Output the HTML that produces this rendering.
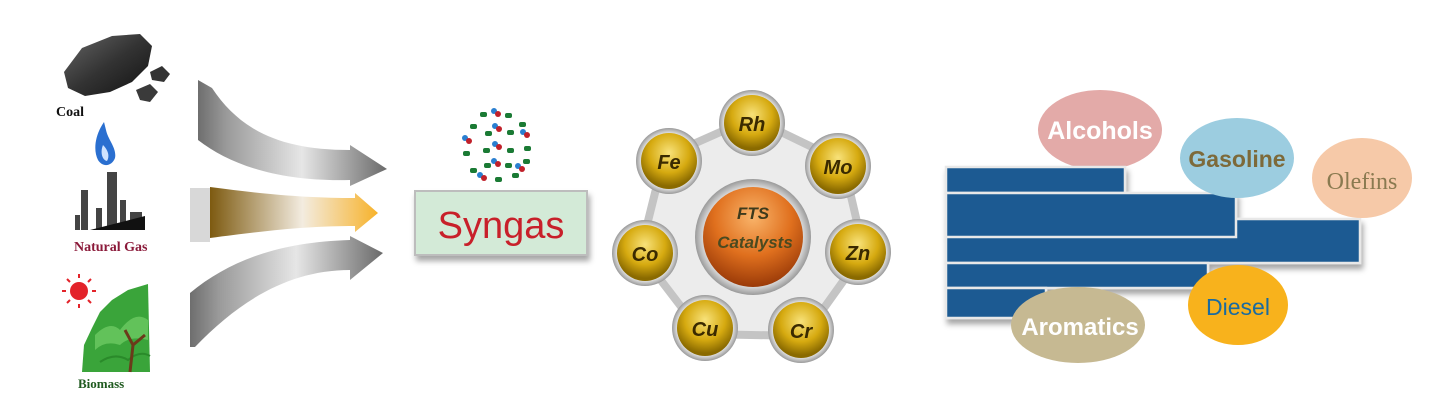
<!DOCTYPE html>
<html><head><meta charset="utf-8"><style>
html,body{margin:0;padding:0;background:#fff;width:1451px;height:409px;overflow:hidden}
svg{display:block}
</style></head><body>
<svg width="1451" height="409" viewBox="0 0 1451 409" xmlns="http://www.w3.org/2000/svg">
<defs>
<linearGradient id="gray" x1="0" x2="1" y1="0" y2="0">
<stop offset="0" stop-color="#6e6e6e"/><stop offset="0.15" stop-color="#9a9a9a"/><stop offset="0.55" stop-color="#e6e6e6"/><stop offset="1" stop-color="#6a6a6a"/></linearGradient>
<linearGradient id="brown" x1="0" x2="1" y1="0" y2="0">
<stop offset="0" stop-color="#7d5a10"/><stop offset="0.55" stop-color="#f3ece0"/><stop offset="1" stop-color="#f7b22a"/></linearGradient>
<radialGradient id="gold" cx="0.5" cy="0.35" r="0.6">
<stop offset="0" stop-color="#f8e27a"/><stop offset="0.6" stop-color="#d6aa10"/><stop offset="1" stop-color="#8a6a00"/></radialGradient>
<radialGradient id="orange" cx="0.5" cy="0.3" r="0.7">
<stop offset="0" stop-color="#f9b46a"/><stop offset="0.55" stop-color="#e0701e"/><stop offset="1" stop-color="#9a3a08"/></radialGradient>
<radialGradient id="silver" cx="0.5" cy="0.5" r="0.5">
<stop offset="0.8" stop-color="#f4f4f4"/><stop offset="1" stop-color="#9a9a9a"/></radialGradient>
<linearGradient id="coal" x1="0" x2="1" y1="0" y2="1"><stop offset="0" stop-color="#666"/><stop offset="0.5" stop-color="#333"/><stop offset="1" stop-color="#111"/></linearGradient>
<filter id="sh" x="-10%" y="-10%" width="130%" height="140%"><feDropShadow dx="2" dy="5" stdDeviation="3" flood-color="#000" flood-opacity="0.35"/></filter>
</defs>

<!-- Coal -->
<path d="M64 72 L82 48 L112 36 L140 34 L152 46 L148 66 L132 82 L110 92 L85 96 L68 88 Z" fill="url(#coal)"/>
<path d="M150 72 L162 66 L170 74 L164 82 L152 80 Z" fill="#333"/>
<path d="M136 90 L150 84 L158 92 L150 102 L140 100 Z" fill="#3a3a3a"/>
<text x="56" y="116" font-family="Liberation Serif,serif" font-weight="bold" font-size="14" fill="#111">Coal</text>
<!-- flame -->
<path d="M104 122 C95 135 93 150 98 160 C103 168 112 166 115 158 C117 148 108 140 106 130 Z" fill="#2a6fd0"/>
<path d="M103 145 C100 152 102 160 107 161 C110 156 108 150 103 145Z" fill="#cfe3ff"/>
<!-- factory -->
<g fill="#444">
<rect x="107" y="172" width="10" height="58"/><rect x="81" y="190" width="7" height="40"/><rect x="120" y="200" width="6" height="30"/>
<rect x="96" y="208" width="6" height="22"/><rect x="75" y="215" width="5" height="15"/><rect x="130" y="212" width="12" height="18"/>
</g>
<path d="M90 230 L145 216 L145 230 Z" fill="#111"/>
<text x="74" y="251" font-family="Liberation Serif,serif" font-weight="bold" font-size="14" fill="#8b1a3a">Natural Gas</text>
<!-- sun -->
<circle cx="79" cy="291" r="9" fill="#e3232a"/>
<g stroke="#e3232a" stroke-width="2">
<line x1="79" y1="274" x2="79" y2="278"/><line x1="79" y1="304" x2="79" y2="308"/><line x1="62" y1="291" x2="66" y2="291"/><line x1="92" y1="291" x2="96" y2="291"/>
<line x1="67" y1="279" x2="70" y2="282"/><line x1="88" y1="300" x2="91" y2="303"/><line x1="67" y1="303" x2="70" y2="300"/><line x1="88" y1="282" x2="91" y2="279"/>
</g>
<!-- tree -->
<path d="M82 372 L84 345 L92 328 L100 312 L112 300 L128 290 L148 284 L150 372 Z" fill="#3aa43a"/>
<path d="M95 335 Q110 320 120 330 Q135 310 148 320 L148 340 Q130 335 120 345 Q105 340 95 350Z" fill="#62c25a"/>
<path d="M100 362 Q115 352 128 360 Q140 350 150 356" stroke="#2a8a2a" stroke-width="2" fill="none"/>
<path d="M130 372 L133 345 L125 330 M133 345 L145 335" stroke="#6b3a1a" stroke-width="3" fill="none"/>
<text x="78" y="388" font-family="Liberation Serif,serif" font-weight="bold" font-size="13" fill="#1f5a1f">Biomass</text>

<!-- arrows -->
<path d="M198 80 L212 88 C240 130 280 150 350 150 L350 145 L387 169 L350 186 L350 180 C280 182 230 165 198 140 Z" fill="url(#gray)"/>
<rect x="190" y="188" width="20" height="54" fill="#d8d8d8"/>
<path d="M210 187 C270 195 310 198 355 198 L355 193 L378 213 L355 232 L355 226 C310 226 270 230 210 238 Z" fill="url(#brown)"/>
<path d="M190 293 C230 260 280 242 350 240 L350 236 L383 253 L350 280 L350 270 C290 270 240 300 195 347 L190 347 Z" fill="url(#gray)"/>

<!-- syngas -->
<g>
<g fill="#1a7a34">
<rect x="480" y="112" width="7" height="5" rx="2"/><rect x="505" y="113" width="7" height="5" rx="2"/><rect x="470" y="124" width="7" height="5" rx="2"/>
<rect x="485" y="131" width="7" height="5" rx="2"/><rect x="507" y="130" width="7" height="5" rx="2"/><rect x="519" y="122" width="7" height="5" rx="2"/>
<rect x="463" y="151" width="7" height="5" rx="2"/><rect x="483" y="148" width="7" height="5" rx="2"/><rect x="507" y="148" width="7" height="5" rx="2"/>
<rect x="524" y="146" width="7" height="5" rx="2"/><rect x="470" y="168" width="7" height="5" rx="2"/><rect x="484" y="163" width="7" height="5" rx="2"/>
<rect x="505" y="163" width="7" height="5" rx="2"/><rect x="523" y="159" width="7" height="5" rx="2"/><rect x="495" y="177" width="7" height="5" rx="2"/><rect x="512" y="173" width="7" height="5" rx="2"/>
</g>
<g><circle cx="494" cy="111" r="3" fill="#2a7fd0"/><circle cx="498" cy="114" r="3" fill="#c0202a"/>
<circle cx="495" cy="126" r="3" fill="#2a7fd0"/><circle cx="499" cy="129" r="3" fill="#c0202a"/>
<circle cx="523" cy="132" r="3" fill="#2a7fd0"/><circle cx="527" cy="135" r="3" fill="#c0202a"/>
<circle cx="465" cy="138" r="3" fill="#2a7fd0"/><circle cx="469" cy="141" r="3" fill="#c0202a"/>
<circle cx="495" cy="144" r="3" fill="#2a7fd0"/><circle cx="499" cy="147" r="3" fill="#c0202a"/>
<circle cx="494" cy="161" r="3" fill="#2a7fd0"/><circle cx="498" cy="164" r="3" fill="#c0202a"/>
<circle cx="518" cy="166" r="3" fill="#2a7fd0"/><circle cx="522" cy="169" r="3" fill="#c0202a"/>
<circle cx="480" cy="175" r="3" fill="#2a7fd0"/><circle cx="484" cy="178" r="3" fill="#c0202a"/></g>
<rect x="415" y="191" width="172" height="64" fill="#d3ead7" stroke="#bdbdbd" stroke-width="2" filter="url(#sh)"/>
<text x="501" y="238" text-anchor="middle" font-family="Liberation Sans,sans-serif" font-size="38" fill="#c8202a">Syngas</text>
</g>

<!-- catalysts -->
<polygon points="752,118 843,162 864,252 804,336 702,334 640,253 664,157" fill="#ececec" stroke="#c4c4c4" stroke-width="8" stroke-linejoin="round"/>
<circle cx="753" cy="237" r="58" fill="url(#silver)"/>
<circle cx="753" cy="237" r="50" fill="url(#orange)"/>
<text x="753" y="219" text-anchor="middle" font-family="Liberation Sans,sans-serif" font-weight="bold" font-style="italic" font-size="17" fill="#3d3a1c">FTS</text>
<text x="755" y="248" text-anchor="middle" font-family="Liberation Sans,sans-serif" font-weight="bold" font-style="italic" font-size="17" fill="#4a4a20">Catalysts</text>
<g font-family="Liberation Sans,sans-serif" font-weight="bold" font-style="italic" font-size="20" fill="#3a2a00" text-anchor="middle">
<circle cx="752" cy="123" r="33" fill="url(#silver)"/><circle cx="752" cy="123" r="28" fill="url(#gold)"/><text x="752" y="131">Rh</text>
<circle cx="669" cy="161" r="33" fill="url(#silver)"/><circle cx="669" cy="161" r="28" fill="url(#gold)"/><text x="669" y="169">Fe</text>
<circle cx="838" cy="166" r="33" fill="url(#silver)"/><circle cx="838" cy="166" r="28" fill="url(#gold)"/><text x="838" y="174">Mo</text>
<circle cx="645" cy="253" r="33" fill="url(#silver)"/><circle cx="645" cy="253" r="28" fill="url(#gold)"/><text x="645" y="261">Co</text>
<circle cx="858" cy="252" r="33" fill="url(#silver)"/><circle cx="858" cy="252" r="28" fill="url(#gold)"/><text x="858" y="260">Zn</text>
<circle cx="705" cy="328" r="33" fill="url(#silver)"/><circle cx="705" cy="328" r="28" fill="url(#gold)"/><text x="705" y="336">Cu</text>
<circle cx="801" cy="330" r="33" fill="url(#silver)"/><circle cx="801" cy="330" r="28" fill="url(#gold)"/><text x="801" y="338">Cr</text>
</g>

<!-- products -->
<ellipse cx="1100" cy="130" rx="62" ry="40" fill="#e3aaa8"/>
<g filter="url(#sh)" stroke="#e8e8e8" stroke-width="2.5" fill="#1b5a92">
<rect x="946" y="167" width="179" height="26"/>
<rect x="946" y="219" width="414" height="44"/>
<rect x="946" y="193" width="290" height="44"/>
<rect x="946" y="263" width="262" height="25"/>
<rect x="946" y="288" width="100" height="30"/>
</g>
<ellipse cx="1237" cy="158" rx="57" ry="40" fill="#9ccde0"/>
<ellipse cx="1362" cy="178" rx="50" ry="40" fill="#f6c9a8"/>
<ellipse cx="1238" cy="305" rx="50" ry="40" fill="#f8b21c"/>
<ellipse cx="1078" cy="325" rx="67" ry="38" fill="#c6b992"/>
<g font-family="Liberation Sans,sans-serif" text-anchor="middle">
<text x="1100" y="139" font-size="25" font-weight="bold" fill="#fff">Alcohols</text>
<text x="1237" y="167" font-size="23" font-weight="bold" fill="#7d6a3a">Gasoline</text>
<text x="1238" y="315" font-size="23" fill="#1a6ba0">Diesel</text>
<text x="1080" y="335" font-size="24" font-weight="bold" fill="#fff">Aromatics</text>
</g>
<text x="1362" y="189" text-anchor="middle" font-family="Liberation Serif,serif" font-size="24" fill="#8a7a50">Olefins</text>
</svg>
</body></html>
